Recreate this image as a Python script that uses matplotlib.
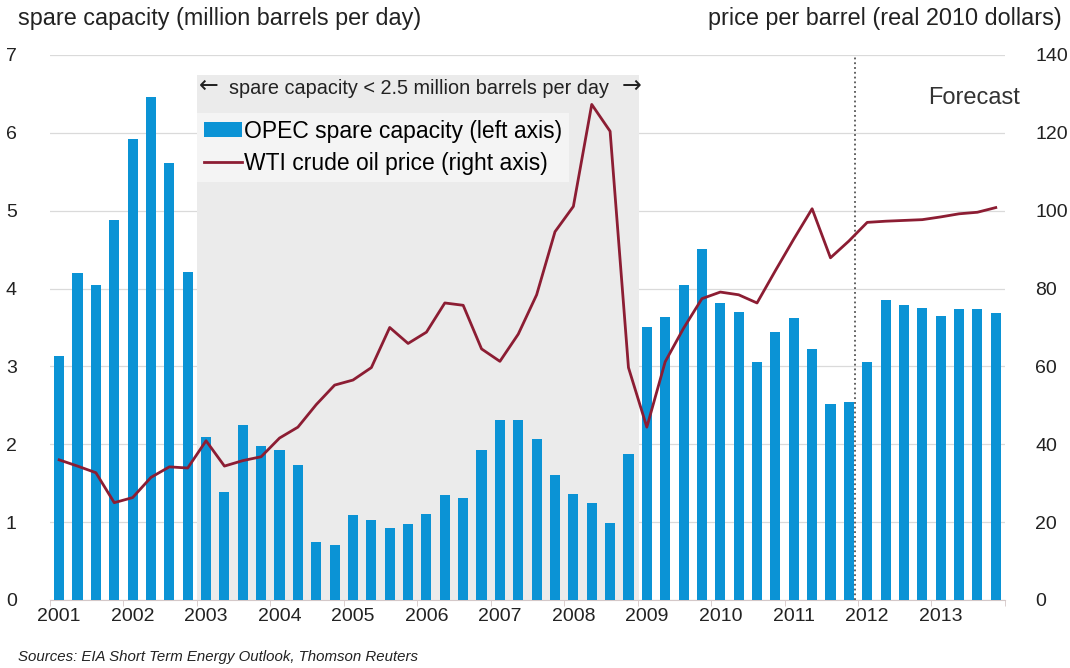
import numpy as np
import matplotlib
matplotlib.use("Agg")
import matplotlib.pyplot as plt
from matplotlib.patches import Patch
from matplotlib.lines import Line2D

plt.rcParams['font.family'] = ['Liberation Sans', 'DejaVu Sans']

# quarterly data, 2001 Q1 .. 2013 Q4
years = [str(y) for y in range(2001, 2014)]
spare = [3.13, 4.20, 4.04, 4.88, 5.92, 6.46, 5.61, 4.21,
         2.09, 1.39, 2.25, 1.98, 1.93, 1.73, 0.74, 0.71,
         1.09, 1.03, 0.92, 0.97, 1.10, 1.35, 1.31, 1.93,
         2.31, 2.31, 2.07, 1.61, 1.36, 1.24, 0.99, 1.87,
         3.50, 3.64, 4.05, 4.51, 3.82, 3.70, 3.06, 3.44,
         3.62, 3.22, 2.52, 2.54, 3.06, 3.85, 3.79, 3.75,
         3.65, 3.74, 3.74, 3.69]
price = [36.0, 34.4, 32.7, 25.0, 26.3, 31.5, 34.2, 33.9,
         40.9, 34.4, 35.8, 36.8, 41.6, 44.4, 50.2, 55.2,
         56.5, 59.7, 70.0, 65.9, 68.8, 76.3, 75.7, 64.5,
         61.3, 68.3, 78.4, 94.6, 101.1, 127.3, 120.4, 59.7,
         44.4, 61.2, 69.8, 77.4, 79.1, 78.4, 76.3, 84.6,
         92.7, 100.5, 87.9, 92.2, 97.0, 97.3, 97.5, 97.7,
         98.4, 99.2, 99.6, 100.8]

blue = '#0B93D5'
red = '#8C1D33'
x = np.arange(len(spare))

fig = plt.figure(figsize=(10.7, 6.68), dpi=100)
ax = fig.add_axes([0.0467, 0.1018, 0.8925, 0.8159])
ax2 = ax.twinx()

# shaded period with low spare capacity
ax.fill_between([7.5, 31.55], 0, 6.74, color='#ebebeb', zorder=1, lw=0)
ax.bar(x, spare, width=0.55, color=blue, zorder=3)
ax.axvline(43.35, ymin=0, ymax=1, color='#555555', ls=':', lw=1.3, zorder=4)

ax.set_xlim(-0.5, len(spare) - 0.5)
ax.set_ylim(0, 7)
ax.set_yticks(range(0, 8))
ax.grid(axis='y', color='#dadada', lw=0.9, zorder=0)
ax.set_axisbelow(True)

ax.set_xticks(np.arange(0, len(spare), 4))
ax.set_xticklabels(years)
ax.set_xticks(np.arange(-0.5, len(spare), 4), minor=True)
ax.tick_params(axis='x', which='major', length=0, labelsize=14, pad=6, colors='#222222')
ax.tick_params(axis='x', which='minor', length=4, color='#d4c8c8')
ax.tick_params(axis='y', length=0, labelsize=14, pad=24, colors='#222222')
for s in ['top', 'right', 'left']:
    ax.spines[s].set_visible(False)
ax.spines['bottom'].set_color('#d4c8c8')

ax2.plot(x, price, color=red, lw=2.0, zorder=5)
ax2.set_ylim(0, 140)
ax2.set_yticks(range(0, 141, 20))
ax2.tick_params(axis='y', length=0, labelsize=14, pad=22, colors='#222222')
for s in ['top', 'right', 'left', 'bottom']:
    ax2.spines[s].set_visible(False)

# annotation over the shaded period
ax.text(19.6, 6.57, 'spare capacity < 2.5 million barrels per day',
        ha='center', va='center', fontsize=14.3, color='#222222', zorder=6)
ax.text(7.6, 6.6, '\u2190', family='DejaVu Sans', ha='left', va='center',
        fontsize=17, color='#222222', zorder=6)
ax.text(31.7, 6.6, '\u2192', family='DejaVu Sans', ha='right', va='center',
        fontsize=17, color='#222222', zorder=6)

handles = [Patch(facecolor=blue, edgecolor='none'),
           Line2D([], [], color=red, lw=2.0)]
leg = ax2.legend(handles, ['OPEC spare capacity (left axis)', 'WTI crude oil price (right axis)'],
                 loc='upper left', bbox_to_anchor=(0.154, 0.894), fontsize=16.5,
                 frameon=True, facecolor='#f6f6f6', edgecolor='none', framealpha=0.85,
                 handlelength=1.65, handleheight=0.6, handletextpad=0.1,
                 borderpad=0.3, labelspacing=0.4, borderaxespad=0)
leg.get_frame().set_boxstyle('square', pad=0)

fig.text(0.017, 0.972, 'spare capacity (million barrels per day)', fontsize=16.8,
         ha='left', va='center', color='#222222')
fig.text(0.9925, 0.972, 'price per barrel (real 2010 dollars)', fontsize=16.8,
         ha='right', va='center', color='#222222')
fig.text(0.953, 0.853, 'Forecast', fontsize=17, ha='right', va='center', color='#333333')
fig.text(0.017, 0.016, 'Sources: EIA Short Term Energy Outlook, Thomson Reuters',
         fontsize=10.8, style='italic', ha='left', va='center', color='#222222')

fig.savefig('out.png', dpi=100)
